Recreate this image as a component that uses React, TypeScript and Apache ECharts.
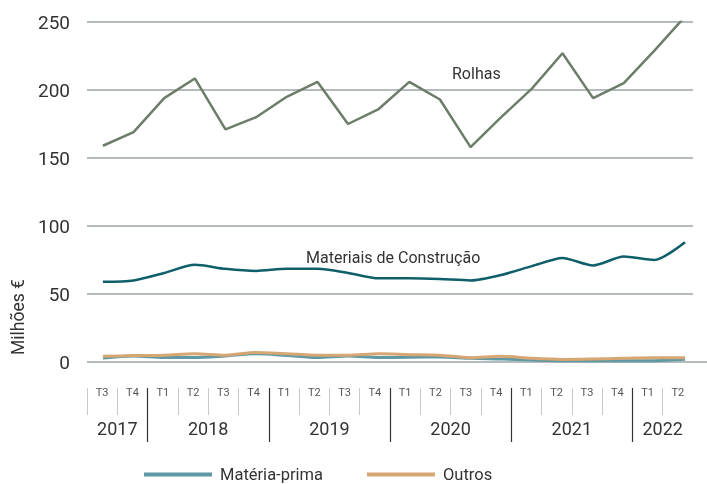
import React, { useEffect, useRef } from "react";
import * as echarts from "echarts";

const quarters = ["T3","T4","T1","T2","T3","T4","T1","T2","T3","T4","T1","T2","T3","T4","T1","T2","T3","T4","T1","T2"];
const years = ["2017","2018","2019","2020","2021","2022"];
const quartersPerYear = [2, 4, 4, 4, 4, 2];
const yTicks = [0, 50, 100, 150, 200, 250];

const rolhas = [159,169,194,208.5,171,180,195,206,175,186,206,193,158,180,201,227,194,205,229,254];
const materiaisConstrucao = [59,60,65.5,71.5,68.5,67,68.5,68.5,65.5,61.5,61.5,61,60,64,70.5,76.5,71,77.5,75,88];
const materiaPrima = [3,4.5,3.3,3.3,4.5,6,4.8,3.3,4.5,3.3,3.5,3.7,2.7,2.2,1.5,1,1,1,1,2];
const outros = [4.2,4.7,5,6,5,7,6,5,5,6,5.4,5,3.2,4.2,2.7,1.9,2.2,2.7,3.2,3.2];

const FONT = "Roboto";
const TXT = "#333333";

export default function App() {
  const ref = useRef<HTMLDivElement>(null);
  useEffect(() => {
    const chart = echarts.init(ref.current!, null, { renderer: "svg" });
    const n = quarters.length;
    const yearCenters: number[] = [];
    const yearBounds: number[] = [];
    let start = 0;
    quartersPerYear.forEach((c, k) => {
      yearCenters.push(start + (c - 1) / 2);
      start += c;
      if (k < quartersPerYear.length - 1) yearBounds.push(start - 0.5);
    });
    const quarterBounds = quarters.map((_, i) => i - 0.5);
    const quarterCenters = quarters.map((_, i) => i);
    const toPairs = (arr: number[]) => arr.map((v, i) => [i, v]);

    chart.setOption({
      animation: false,
      grid: { left: 87, right: 14, top: 22, bottom: 122 },
      legend: {
        data: ["Matéria-prima", "Outros"],
        left: 139,
        top: 461,
        icon: "rect",
        itemWidth: 68,
        itemHeight: 4,
        itemGap: 44,
        textStyle: { fontFamily: FONT, fontSize: 16.5, color: TXT, padding: [0, 0, 0, 3] },
      },
      yAxis: {
        type: "value",
        min: yTicks[0],
        max: yTicks[yTicks.length - 1],
        interval: 50,
        axisLine: { show: false },
        axisTick: { show: false },
        axisLabel: { fontFamily: FONT, fontSize: 19, color: TXT, margin: 17, padding: [0, 0, 8, 0] },
        splitLine: { lineStyle: { color: "#b5babd", width: 2 } },
      },
      xAxis: [
        {
          type: "value",
          position: "bottom",
          min: -0.5,
          max: n - 0.5,
          offset: 26,
          axisLine: { show: false, onZero: false },
          splitLine: { show: false },
          axisTick: { show: true, customValues: quarterBounds, length: 27, lineStyle: { color: "#c8c8c8", width: 1 } },
          axisLabel: {
            customValues: quarterCenters,
            formatter: (v: number) => quarters[Math.round(v)],
            fontFamily: FONT,
            fontSize: 11,
            color: "#555555",
            margin: -1,
          },
        },
        {
          type: "value",
          position: "bottom",
          min: -0.5,
          max: n - 0.5,
          offset: 26,
          axisLine: { show: false, onZero: false },
          splitLine: { show: false },
          axisTick: { show: true, customValues: yearBounds, length: 54, lineStyle: { color: "#333333", width: 1.2 } },
          axisLabel: {
            customValues: yearCenters,
            formatter: (v: number) => years[yearCenters.indexOf(v)],
            fontFamily: FONT,
            fontSize: 18,
            color: TXT,
            margin: 31,
          },
        },
        {
          type: "value",
          show: false,
          min: -0.52,
          max: 19.26,
          axisLine: { onZero: false },
          splitLine: { show: false },
        },
      ],
      series: [
        {
          name: "Rolhas",
          type: "line",
          xAxisIndex: 2,
          data: toPairs(rolhas),
          symbol: "none",
          lineStyle: { color: "#6c7d69", width: 2.5 },
          itemStyle: { color: "#6c7d69" },
        },
        {
          name: "Materiais de Construção",
          type: "line",
          xAxisIndex: 2,
          data: toPairs(materiaisConstrucao),
          symbol: "none",
          smooth: 0.25,
          lineStyle: { color: "#0e5f6a", width: 2.5 },
          itemStyle: { color: "#0e5f6a" },
        },
        {
          name: "Matéria-prima",
          type: "line",
          xAxisIndex: 2,
          data: toPairs(materiaPrima),
          symbol: "none",
          smooth: 0.3,
          lineStyle: { color: "#5f99a3", width: 3 },
          itemStyle: { color: "#5f99a3" },
        },
        {
          name: "Outros",
          type: "line",
          xAxisIndex: 2,
          data: toPairs(outros),
          symbol: "none",
          smooth: 0.3,
          lineStyle: { color: "#d6a673", width: 3 },
          itemStyle: { color: "#d6a673" },
        },
      ],
      graphic: [
        {
          type: "text",
          x: 452,
          y: 73,
          style: { text: "Rolhas", fontFamily: FONT, fontSize: 16, fill: TXT, verticalAlign: "middle", align: "left" },
        },
        {
          type: "text",
          x: 306,
          y: 257,
          style: { text: "Materiais de Construção", fontFamily: FONT, fontSize: 16, fill: TXT, verticalAlign: "middle", align: "left" },
        },
        {
          type: "text",
          x: 17.5,
          y: 317,
          rotation: Math.PI / 2,
          style: { text: "Milhões €", fontFamily: FONT, fontSize: 17.5, fill: TXT, verticalAlign: "middle", align: "center" },
        },
        {
          type: "line",
          shape: { x1: 693, y1: 362, x2: 707, y2: 362 },
          style: { stroke: "#b5babd", lineWidth: 2 },
        },
      ],
    });
    return () => chart.dispose();
  }, []);
  return <div ref={ref} style={{ position: "fixed", left: 0, top: 0, width: 707, height: 484 }} />;
}
